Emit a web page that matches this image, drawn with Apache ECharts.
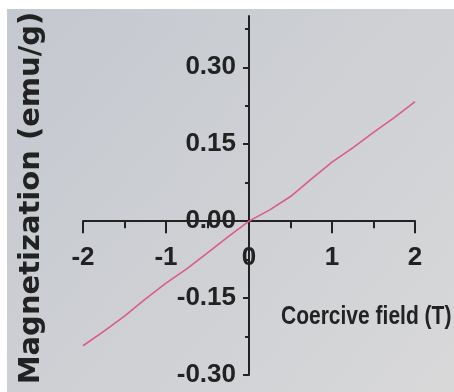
<!DOCTYPE html>
<html>
<head>
<meta charset="utf-8">
<script src="https://cdn.jsdelivr.net/npm/echarts@6/dist/echarts.min.js"></script>
<style>
  html, body { margin: 0; padding: 0; background: #ffffff; }
  #chart { width: 454px; height: 392px; }
</style>
</head>
<body>
<div id="chart"></div>
<script>
// Applied field (T) and measured magnetization (emu/g)
const fieldT = [-2, -1.75, -1.5, -1.25, -1, -0.75, -0.5, -0.25, 0, 0.25, 0.5, 0.75, 1, 1.25, 1.5, 1.75, 2];
const magnetization = [-0.243, -0.215, -0.185, -0.152, -0.121, -0.093, -0.062, -0.030, 0.0, 0.022, 0.048, 0.082, 0.115, 0.143, 0.173, 0.202, 0.233];

// Axis ticks
const xTicks = [-2, -1, 0, 1, 2];
const yMajorTicks = [-0.30, -0.15, 0.00, 0.15, 0.30];
const yMinorTicks = [-0.225, -0.075, 0.075, 0.225, 0.375];

const xAxisTitle = 'Coercive field (T)';
const yAxisTitle = 'Magnetization (emu/g)';

const ink = '#222222';
const labelFont = "'Liberation Sans', Arial, sans-serif";

// Plot box: x from -2..2, y from -0.30..0.40; axes cross at the origin
const grid = { left: 83, right: 39, top: 16, bottom: 17 };
const W = 454, H = 392;
const yAxisShift = -((W - grid.left - grid.right) / 2);          // y axis sits at field = 0
const xAxisShift = -((H - grid.top - grid.bottom) * 0.30 / 0.70); // x axis sits at M = 0

const chart = echarts.init(document.getElementById('chart'), null, { renderer: 'canvas' });

chart.setOption({
  backgroundColor: '#ffffff',
  animation: false,
  grid: grid,
  graphic: [
    {
      type: 'rect',
      z: -10,
      silent: true,
      shape: { x: 7, y: 9, width: 447, height: 383 },
      style: {
        fill: new echarts.graphic.LinearGradient(0, 0, 1, 1, [
          { offset: 0, color: '#c4c8cf' },
          { offset: 0.5, color: '#ced0d4' },
          { offset: 1, color: '#d8d8d9' }
        ])
      }
    },
    {
      type: 'text',
      x: 31,
      y: 198,
      rotation: Math.PI / 2,
      style: {
        text: yAxisTitle,
        fill: ink,
        font: "bold 29px 'DejaVu Sans', sans-serif",
        align: 'center',
        verticalAlign: 'middle'
      }
    },
    {
      type: 'text',
      x: 281,
      y: 317,
      scaleX: 0.84,
      style: {
        text: xAxisTitle,
        fill: ink,
        font: "bold 25px " + labelFont,
        align: 'left',
        verticalAlign: 'middle'
      }
    }
  ],
  xAxis: {
    type: 'value',
    min: -2,
    max: 2,
    interval: 1,
    position: 'bottom',
    offset: xAxisShift,
    axisLine: { onZero: false, lineStyle: { color: ink, width: 2 } },
    axisTick: { show: true, length: 12, inside: false, lineStyle: { color: ink, width: 2 } },
    minorTick: { show: true, splitNumber: 2, length: 7, lineStyle: { color: ink, width: 2 } },
    splitLine: { show: false },
    axisLabel: {
      margin: 24,
      color: ink,
      fontSize: 26,
      fontWeight: 'bold',
      fontFamily: labelFont
    }
  },
  yAxis: [
    {
      type: 'value',
      min: -0.30,
      max: 0.40,
      position: 'left',
      offset: yAxisShift,
      axisLine: { onZero: false, lineStyle: { color: ink, width: 2 } },
      axisTick: { show: true, customValues: yMajorTicks, length: 6, lineStyle: { color: ink, width: 2 } },
      splitLine: { show: false },
      axisLabel: {
        customValues: yMajorTicks,
        margin: 13,
        color: ink,
        fontSize: 26,
        fontWeight: 'bold',
        fontFamily: labelFont,
        formatter: v => v.toFixed(2)
      }
    },
    {
      type: 'value',
      min: -0.30,
      max: 0.40,
      position: 'left',
      offset: yAxisShift,
      axisLine: { show: false, onZero: false },
      axisTick: { show: true, customValues: yMinorTicks, length: 4, lineStyle: { color: ink, width: 2 } },
      splitLine: { show: false },
      axisLabel: { show: false }
    }
  ],
  series: [
    {
      type: 'line',
      data: fieldT.map((x, i) => [x, magnetization[i]]),
      showSymbol: false,
      smooth: false,
      lineStyle: { color: '#dc5a8c', width: 1.6 },
      z: 5
    }
  ]
});
</script>
</body>
</html>
